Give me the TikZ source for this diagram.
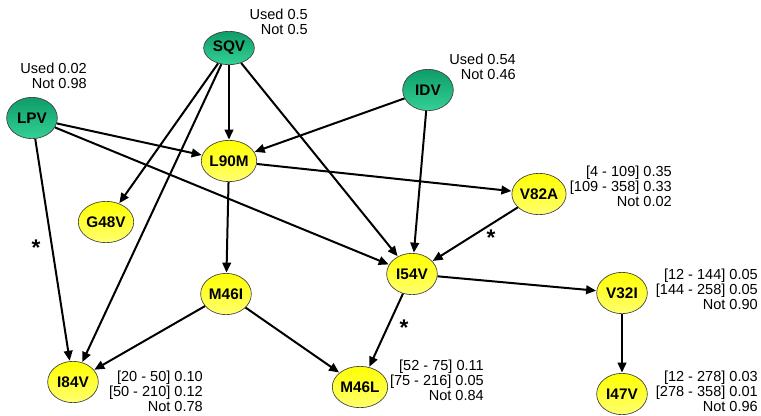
\documentclass[tikz,border=0pt]{standalone}
\usepackage{fontspec}
\setmainfont{Liberation Sans}
\usetikzlibrary{arrows.meta, shapes.geometric}
\definecolor{drugTop}{HTML}{0E9C68}
\definecolor{drugBot}{HTML}{34D196}
\definecolor{mutTop}{HTML}{FFFF00}
\definecolor{mutBot}{HTML}{FFFF70}

\begin{document}
\begin{tikzpicture}[
    x=0.75pt, y=-0.75pt,
    drug/.style={ellipse, draw=black!75, line width=0.5pt, top color=drugTop, bottom color=drugBot,
                 minimum width=38pt, minimum height=31pt, inner sep=0pt,
                 font=\fontsize{11.5}{13}\selectfont\bfseries},
    mut/.style={ellipse, draw=black!75, line width=0.5pt, top color=mutTop, bottom color=mutBot,
                minimum width=38pt, minimum height=31pt, inner sep=0pt,
                font=\fontsize{11.5}{13}\selectfont\bfseries},
    prob/.style={anchor=north east, align=right, inner sep=0pt,
                 font=\fontsize{10.9}{11.25}\selectfont},
    sigmark/.style={font=\fontsize{17}{17}\selectfont\bfseries, inner sep=0pt},
    arr/.style={-{Triangle[length=7.5pt, width=6.5pt]}, line width=1.5pt, shorten >=0.3pt},
  ]
    \useasboundingbox (0,0) rectangle (761,415);

    % drugs
    \node[drug, minimum height=25pt] (sqv) at (229,48) {SQV};
    \node[drug] (lpv) at (32,118) {LPV};
    \node[drug] (idv) at (428,90) {IDV};

    % mutations
    \node[mut] (l90m) at (229,161) {L90M};
    \node[mut] (g48v) at (106,222) {G48V};
    \node[mut] (v82a) at (539,194) {V82A};
    \node[mut] (i54v) at (412,274) {I54V};
    \node[mut] (m46i) at (226,294) {M46I};
    \node[mut] (v32i) at (622,293) {V32I};
    \node[mut] (i84v) at (73,382) {I84V};
    \node[mut] (m46l) at (360,387) {M46L};
    \node[mut] (i47v) at (622,394) {I47V};

    % probabilities
    \node[prob] (p_sqv) at (308,9) {Used 0.5\\Not 0.5};
    \node[prob] (p_lpv) at (87,63) {Used 0.02\\Not 0.98};
    \node[prob] (p_idv) at (516,54) {Used 0.54\\Not 0.46};
    \node[prob] (p_v82a) at (672,166) {{[4 - 109] 0.35}\\{[109 - 358] 0.33}\\Not 0.02};
    \node[prob] (p_v32i) at (758,269) {{[12 - 144] 0.05}\\{[144 - 258] 0.05}\\Not 0.90};
    \node[prob] (p_i84v) at (203,371) {{[20 - 50] 0.10}\\{[50 - 210] 0.12}\\Not 0.78};
    \node[prob] (p_m46l) at (484,360) {{[52 - 75] 0.11}\\{[75 - 216] 0.05}\\Not 0.84};
    \node[prob] (p_i47v) at (758,371) {{[12 - 278] 0.03}\\{[278 - 358] 0.01}\\Not 0.96};

    % edges
    \draw[arr] (sqv) -- (l90m);
    \draw[arr] (sqv) -- (g48v);
    \draw[arr] (sqv) -- (i84v);
    \draw[arr] (sqv) -- (i54v);
    \draw[arr] (lpv) -- (l90m);
    \draw[arr] (lpv) -- (i54v);
    \draw[arr] (lpv) -- (i84v);
    \draw[arr] (idv) -- (l90m);
    \draw[arr] (idv) -- (i54v);
    \draw[arr] (l90m) -- (v82a);
    \draw[arr] (l90m) -- (m46i);
    \draw[arr] (v82a) -- (i54v);
    \draw[arr] (i54v) -- (v32i);
    \draw[arr] (i54v) -- (m46l);
    \draw[arr] (m46i) -- (i84v);
    \draw[arr] (m46i) -- (m46l);
    \draw[arr] (v32i) -- (i47v);

    % significance marks
    \node[sigmark] (s_lpv) at (36,248) {*};
    \node[sigmark] (s_v82a) at (491,238) {*};
    \node[sigmark] (s_i54v) at (404,328) {*};
  \end{tikzpicture}
\end{document}
